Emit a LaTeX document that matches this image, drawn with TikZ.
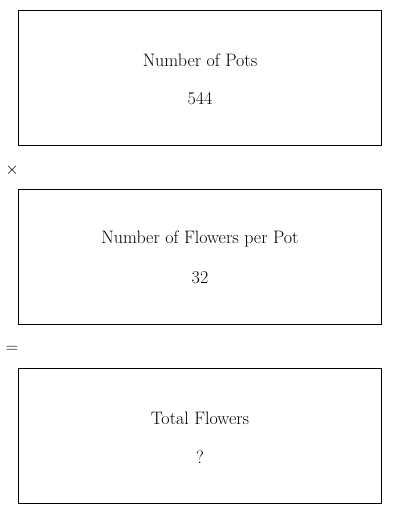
\documentclass[tikz,border=0pt]{standalone}
\begin{document}
\begin{tikzpicture}[x=1pt,y=-1pt,
  box/.style={draw=black,line width=0.8pt},
  lbl/.style={font=\fontsize{18}{20}\selectfont,inner sep=0pt,anchor=center},
  sym/.style={font=\fontsize{17}{19}\selectfont,inner sep=0pt,anchor=center}]
\useasboundingbox (0,0) rectangle (400,514);
\node[box,minimum width=363pt,minimum height=135pt,anchor=north west,inner sep=0pt] (b1) at (18,10) {};
\node[box,minimum width=363pt,minimum height=135pt,anchor=north west,inner sep=0pt] (b2) at (18,189) {};
\node[box,minimum width=363pt,minimum height=135pt,anchor=north west,inner sep=0pt] (b3) at (18,368) {};
\node[lbl] (t1) at (200,60) {Number of Pots};
\node[lbl] (v1) at (200,99) {544};
\node[lbl] (t2) at (200,239) {Number of Flowers per Pot};
\node[lbl] (v2) at (200,278) {32};
\node[lbl] (t3) at (200,418) {Total Flowers};
\node[lbl] (v3) at (200,457) {?};
\node[sym] (times) at (12,170) {$\mathbf{\times}$};
\node[sym] (eq) at (12,349) {$=$};
\end{tikzpicture}
\end{document}
